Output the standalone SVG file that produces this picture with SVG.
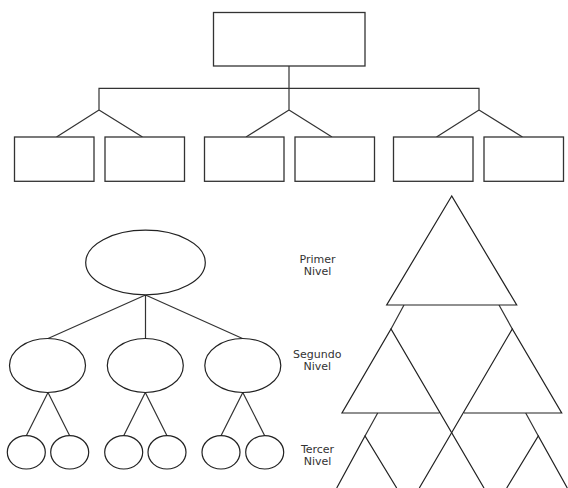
<svg xmlns="http://www.w3.org/2000/svg" width="568" height="488" viewBox="0 0 568 488">
<style>
.box{fill:#fff;stroke:#333;stroke-width:1.3}
.ell{fill:#fff;stroke:#222;stroke-width:1.2}
.ln{fill:none;stroke:#333;stroke-width:1.2}
.tri{fill:#fff;stroke:#222;stroke-width:1.2;stroke-linejoin:miter}
.lbl{font-family:"DejaVu Sans",Verdana,sans-serif;font-size:11px;fill:#333;text-anchor:middle}
</style>
<rect width="568" height="488" fill="#fff"/>
<g id="connectors">
<path class="ln" d="M289 66V110M99 110V88.3H479V110M99 110L56.5 137M99 110L142.5 137M289 110L246 137M289 110L332 137M479 110L436.5 137M479 110L522.5 137"/>
<path class="ln" d="M145.5 295L48 338.5M145.5 295V338.5M145.5 295L242.5 338.5"/>
<path class="ln" d="M48 392.5L26.3 435.7M48 392.5L69.7 435.7M145.3 392.5L123.7 435.7M145.3 392.5L167 435.7M242.8 392.5L221 435.7M242.8 392.5L264.7 435.7"/>
<path class="ln" d="M404 305L391 329M499 305L512.3 329M377.7 413L365 436M525.7 413L538.3 436"/>
</g>
<g id="root"><rect class="box" x="213.5" y="12.5" width="151.5" height="53.5"/></g>
<g id="c1"><rect class="box" x="14.5" y="137" width="79.5" height="44.3"/></g>
<g id="c2"><rect class="box" x="105" y="137" width="79.5" height="44.3"/></g>
<g id="c3"><rect class="box" x="204.5" y="137" width="79.5" height="44.3"/></g>
<g id="c4"><rect class="box" x="295" y="137" width="79.5" height="44.3"/></g>
<g id="c5"><rect class="box" x="393.5" y="137" width="79.5" height="44.3"/></g>
<g id="c6"><rect class="box" x="484" y="137" width="79.5" height="44.3"/></g>
<g id="e-root"><ellipse class="ell" cx="145.5" cy="262.5" rx="59.8" ry="32.3"/></g>
<g id="e1"><ellipse class="ell" cx="47.5" cy="365.5" rx="38" ry="27"/></g>
<g id="e2"><ellipse class="ell" cx="145.3" cy="365.5" rx="38" ry="27"/></g>
<g id="e3"><ellipse class="ell" cx="242.8" cy="365.5" rx="38" ry="27"/></g>
<g id="s1"><ellipse class="ell" cx="26.3" cy="452.3" rx="19" ry="16.7"/></g>
<g id="s2"><ellipse class="ell" cx="69.7" cy="452.3" rx="19" ry="16.7"/></g>
<g id="s3"><ellipse class="ell" cx="123.7" cy="452.3" rx="19" ry="16.7"/></g>
<g id="s4"><ellipse class="ell" cx="167" cy="452.3" rx="19" ry="16.7"/></g>
<g id="s5"><ellipse class="ell" cx="221" cy="452.3" rx="19" ry="16.7"/></g>
<g id="s6"><ellipse class="ell" cx="264.7" cy="452.3" rx="19" ry="16.7"/></g>
<g id="t-top"><path class="tri" d="M451.7 196L386.7 305H516.7Z"/></g>
<g id="t-left"><path class="tri" fill="none" d="M484 488L391 329L342 413H439.3" style="fill:none"/></g>
<g id="t-right"><path class="tri" d="M419.3 488L512.3 329L561.7 413H464" style="fill:none"/></g>
<g id="t-3a"><path class="tri" d="M336.7 488L365 436L396.7 488" style="fill:none"/></g>
<g id="t-3b"><path class="tri" d="M506.7 488L538.3 436L567.3 488" style="fill:none"/></g>
<g id="labels">
<text class="lbl" x="317.5" y="263">Primer</text>
<text class="lbl" x="317.5" y="275">Nivel</text>
<text class="lbl" x="317.3" y="358">Segundo</text>
<text class="lbl" x="317.3" y="370">Nivel</text>
<text class="lbl" x="317.5" y="452.5">Tercer</text>
<text class="lbl" x="317.5" y="464.5">Nivel</text>
</g>
</svg>
